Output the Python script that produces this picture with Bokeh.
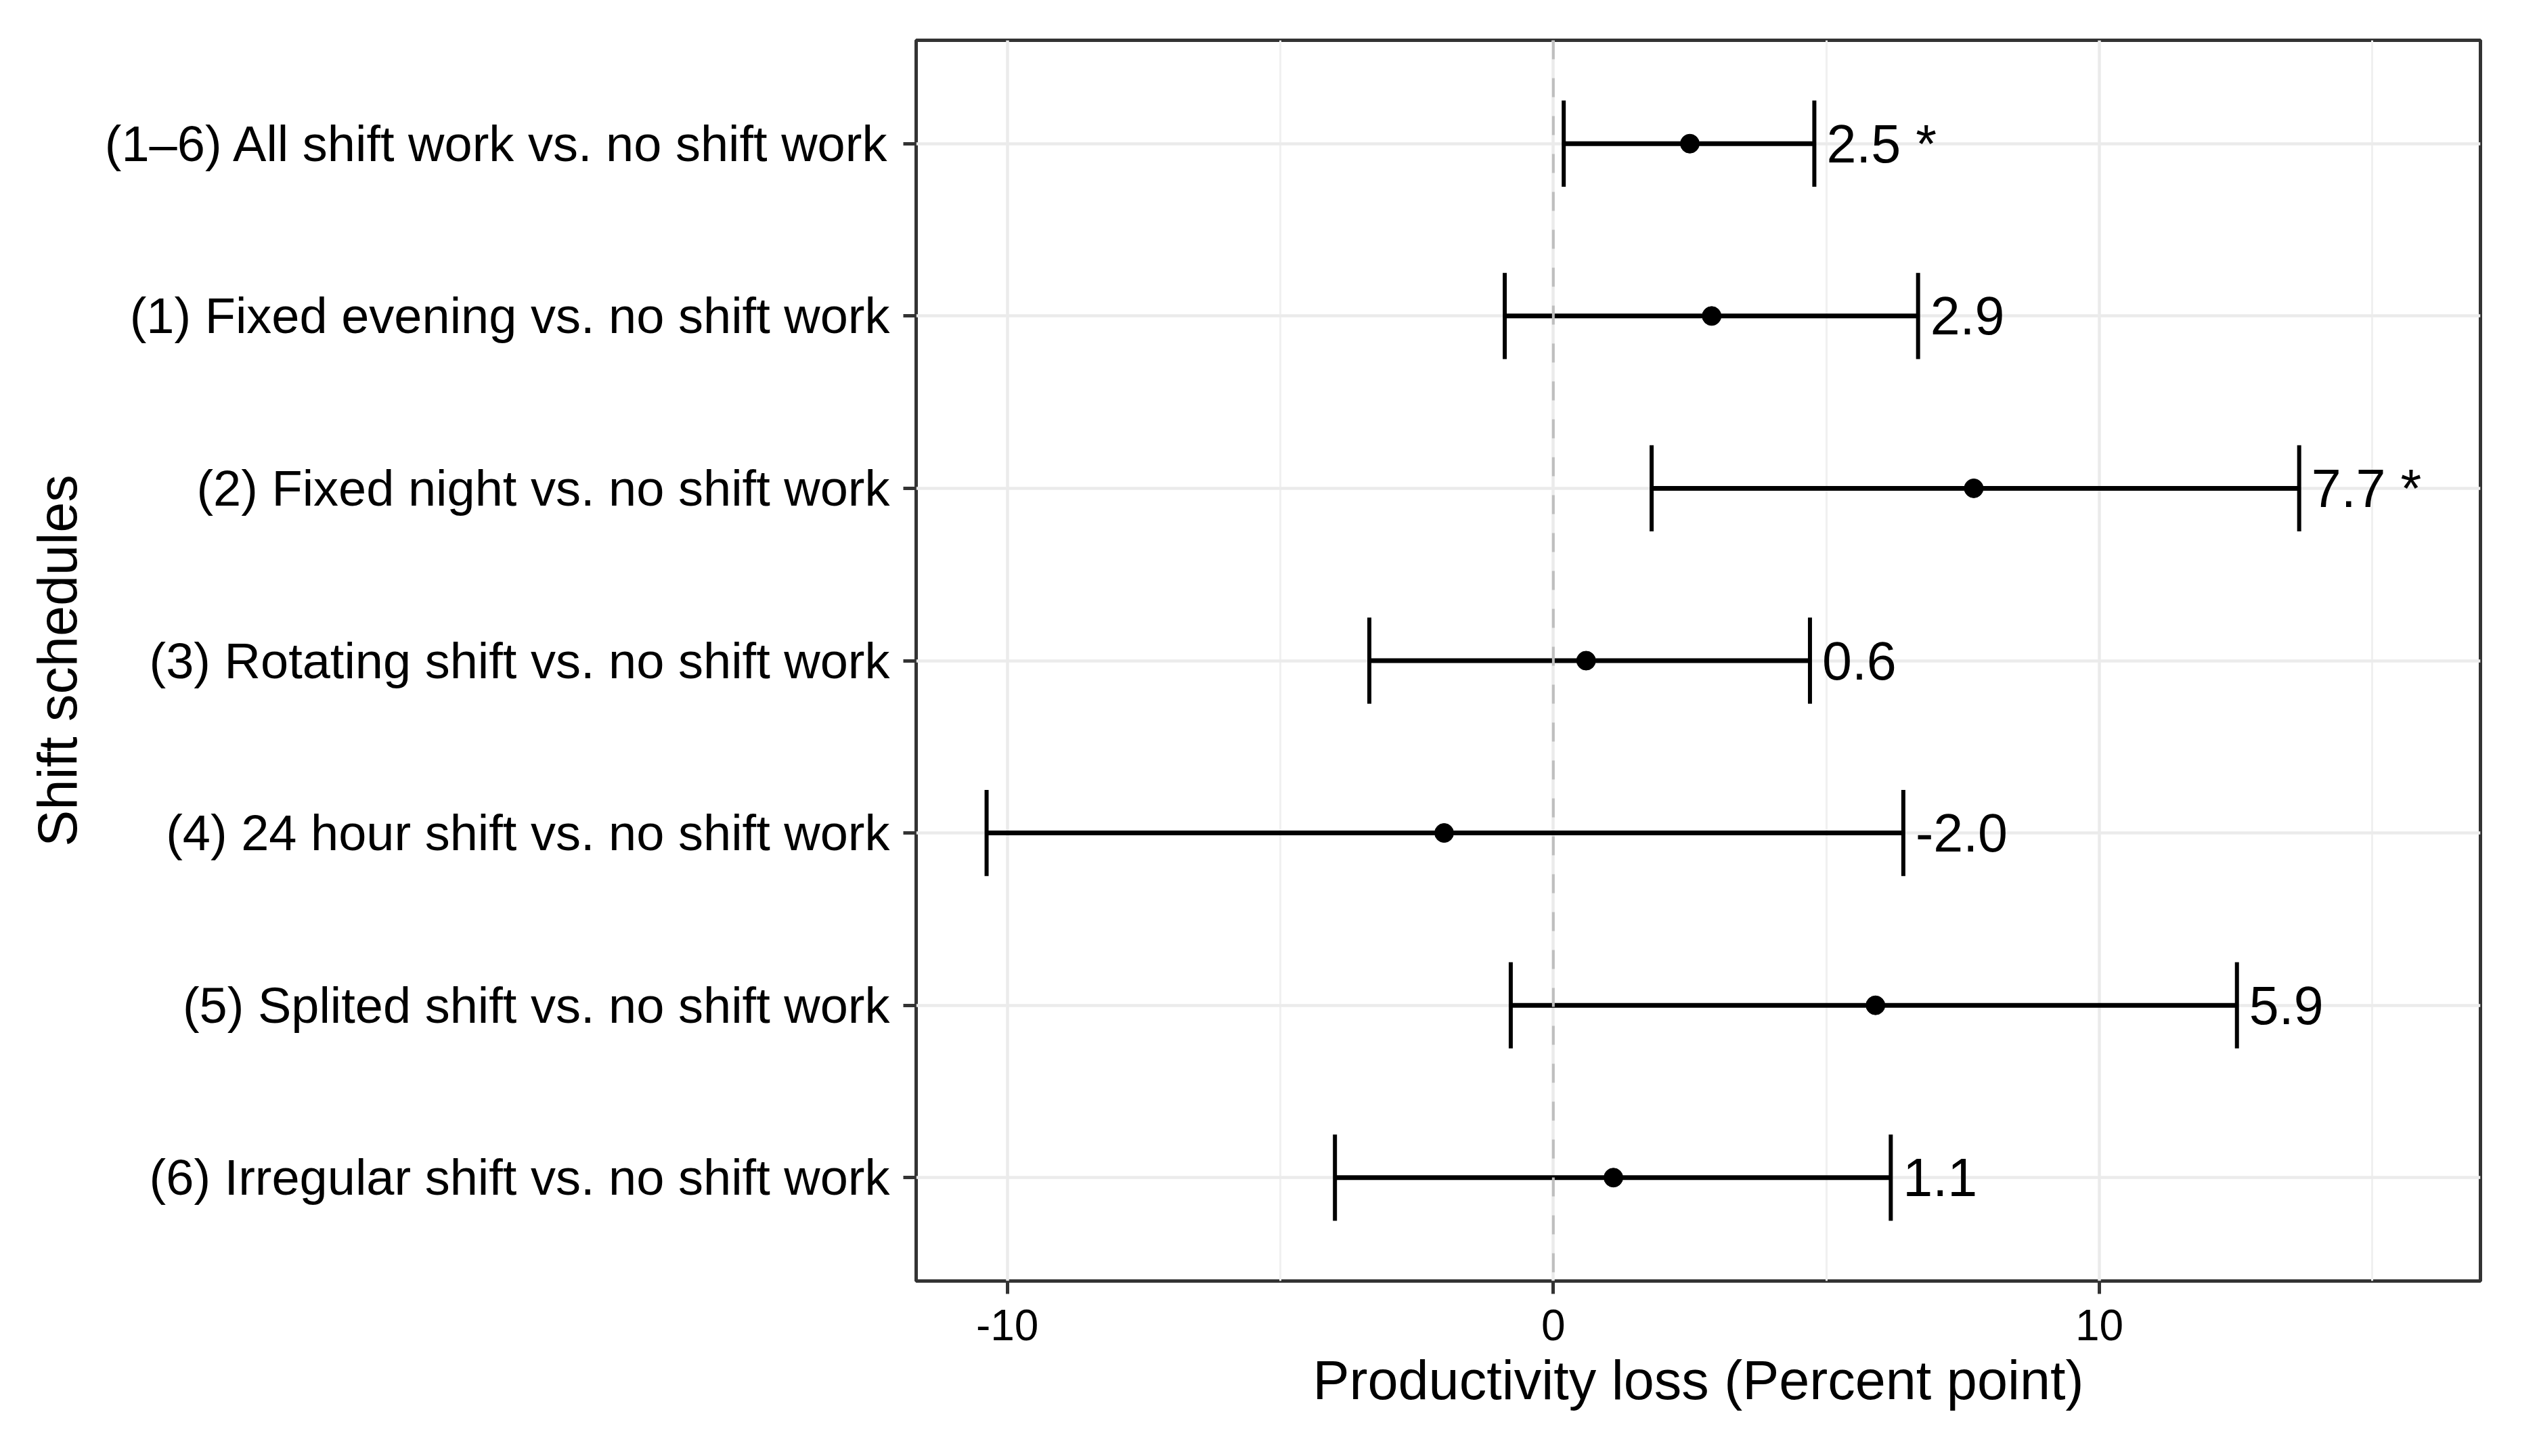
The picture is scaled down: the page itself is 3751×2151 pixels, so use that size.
from bokeh.plotting import figure
from bokeh.models import FactorRange, Range1d, FixedTicker, Span, ColumnDataSource
from bokeh.transform import dodge
from bokeh.embed import file_html
from bokeh.resources import INLINE
from bokeh.core.properties import value

# ---- data ----
schedules = [
    "(1\u20136) All shift work vs. no shift work",
    "(1) Fixed evening vs. no shift work",
    "(2) Fixed night vs. no shift work",
    "(3) Rotating shift vs. no shift work",
    "(4) 24 hour shift vs. no shift work",
    "(5) Splited shift vs. no shift work",
    "(6) Irregular shift vs. no shift work",
]
lower = [0.19, -0.89, 1.80, -3.37, -10.38, -0.78, -4.00]
estimate = [2.5, 2.9, 7.7, 0.6, -2.0, 5.9, 1.1]
upper = [4.78, 6.68, 13.66, 4.70, 6.41, 12.52, 6.18]
value_labels = ["2.5 *", "2.9", "7.7 *", "0.6", "-2.0", "5.9", "1.1"]
x_ticks = [-10, 0, 10]
x_tick_labels = ["-10", "0", "10"]
x_minor_ticks = [-5, 5, 15]
x_limits = (-11.67, 16.98)
x_title = "Productivity loss (Percent point)"
y_title = "Shift schedules"

FONT = "Liberation Sans"
W, H = 3735, 2135

src = ColumnDataSource(dict(schedule=schedules, lower=lower, estimate=estimate,
                            upper=upper, label=value_labels))

p = figure(width=W, height=H, output_backend="svg", toolbar_location=None,
           y_range=FactorRange(factors=list(reversed(schedules)),
                               range_padding=0.1, range_padding_units="absolute"),
           x_range=Range1d(*x_limits),
           min_border_left=1353, min_border_right=71,
           min_border_top=59, min_border_bottom=243)

p.background_fill_color = "white"
p.border_fill_color = "white"
p.outline_line_color = "#333333"
p.outline_line_width = 5

# grids
tick = FixedTicker(ticks=x_ticks, minor_ticks=x_minor_ticks)
p.xaxis.ticker = tick
p.xgrid.ticker = tick
p.xgrid.grid_line_color = "#EBEBEB"
p.xgrid.grid_line_width = 4.5
p.xgrid.minor_grid_line_color = "#F0F0F0"
p.xgrid.minor_grid_line_width = 3
p.ygrid.grid_line_color = "#EBEBEB"
p.ygrid.grid_line_width = 4.5

# axes
for ax in (p.xaxis[0], p.yaxis[0]):
    ax.axis_line_color = None
    ax.major_tick_line_color = "#333333"
    ax.major_tick_line_width = 5
    ax.major_tick_out = 19
    ax.major_tick_in = 0
    ax.minor_tick_line_color = None
    ax.major_label_text_font = FONT
    ax.major_label_text_color = "black"
    ax.axis_label_text_font = FONT
    ax.axis_label_text_font_style = "normal"
    ax.axis_label_text_color = "black"
    ax.axis_label_text_font_size = "81px"

p.xaxis.major_label_overrides = dict(zip(x_ticks, x_tick_labels))
p.xaxis.major_label_text_font_size = "64px"
p.xaxis.major_label_standoff = 23
p.xaxis.axis_label = x_title
p.xaxis.axis_label_standoff = 11

p.yaxis.major_label_text_font_size = "74px"
p.yaxis.major_label_standoff = 20
p.yaxis.axis_label = y_title
p.yaxis.axis_label_standoff = 22

# zero reference line
p.add_layout(Span(location=0, dimension="height", line_color="#BEBEBE",
                  line_width=4, line_dash="28 28"))

# error bars
p.segment(x0="lower", x1="upper", y0="schedule", y1="schedule", source=src,
          line_color="black", line_width=7)
p.segment(x0="lower", x1="lower",
          y0=dodge("schedule", -0.25, range=p.y_range),
          y1=dodge("schedule", 0.25, range=p.y_range),
          source=src, line_color="black", line_width=6)
p.segment(x0="upper", x1="upper",
          y0=dodge("schedule", -0.25, range=p.y_range),
          y1=dodge("schedule", 0.25, range=p.y_range),
          source=src, line_color="black", line_width=6)

# estimates
p.scatter(x="estimate", y="schedule", source=src, size=28,
          fill_color="black", line_color="black")

# value labels
p.text(x="upper", y="schedule", text="label", source=src, x_offset=18,
       text_align="left", text_baseline="middle",
       text_font=value(FONT), text_font_size="79px", text_color="black")

open("out.html", "w").write(file_html(p, INLINE))
